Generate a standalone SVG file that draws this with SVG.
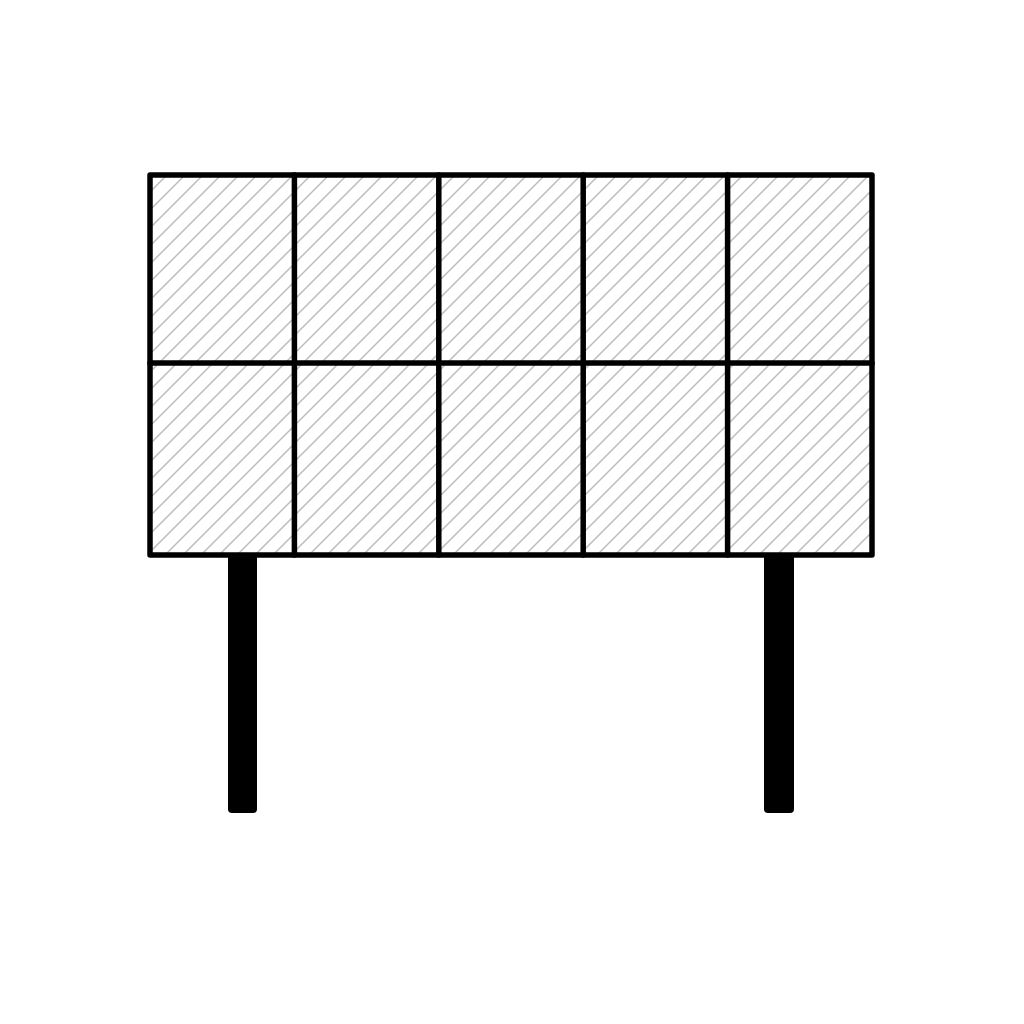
<svg xmlns="http://www.w3.org/2000/svg" width="1024" height="1024" viewBox="0 0 1024 1024">
  <defs>
    <pattern id="hatch" patternUnits="userSpaceOnUse" width="18" height="18">
      <path d="M-2,2 L2,-2 M0,18 L18,0 M16,20 L20,16" stroke="#bcbcbc" stroke-width="1.5" fill="none"/>
    </pattern>
  </defs>
  <style>
    .panel { fill: url(#hatch); }
    .frame { fill: none; stroke: #000; stroke-width: 5.5; stroke-linejoin: round; stroke-linecap: round; }
    .leg { fill: #000; }
  </style>
  <rect width="1024" height="1024" fill="#fff"/>
  <g id="panels">
    <rect class="panel" x="152" y="177" width="140" height="184"/>
    <rect class="panel" x="296" y="177" width="140" height="184"/>
    <rect class="panel" x="441" y="177" width="140" height="184"/>
    <rect class="panel" x="585" y="177" width="140" height="184"/>
    <rect class="panel" x="730" y="177" width="140" height="184"/>
    <rect class="panel" x="152" y="365" width="140" height="188"/>
    <rect class="panel" x="296" y="365" width="140" height="188"/>
    <rect class="panel" x="441" y="365" width="140" height="188"/>
    <rect class="panel" x="585" y="365" width="140" height="188"/>
    <rect class="panel" x="730" y="365" width="140" height="188"/>
  </g>
  <g id="legs">
    <rect class="leg" x="228" y="553" width="29" height="260" rx="4"/>
    <rect class="leg" x="764" y="553" width="30" height="260" rx="4"/>
  </g>
  <g id="frame">
    <rect class="frame" x="150" y="175" width="722" height="380"/>
    <path class="frame" d="M150,363 H872 M294.4,175 V555 M438.8,175 V555 M583.2,175 V555 M727.6,175 V555"/>
  </g>
</svg>
